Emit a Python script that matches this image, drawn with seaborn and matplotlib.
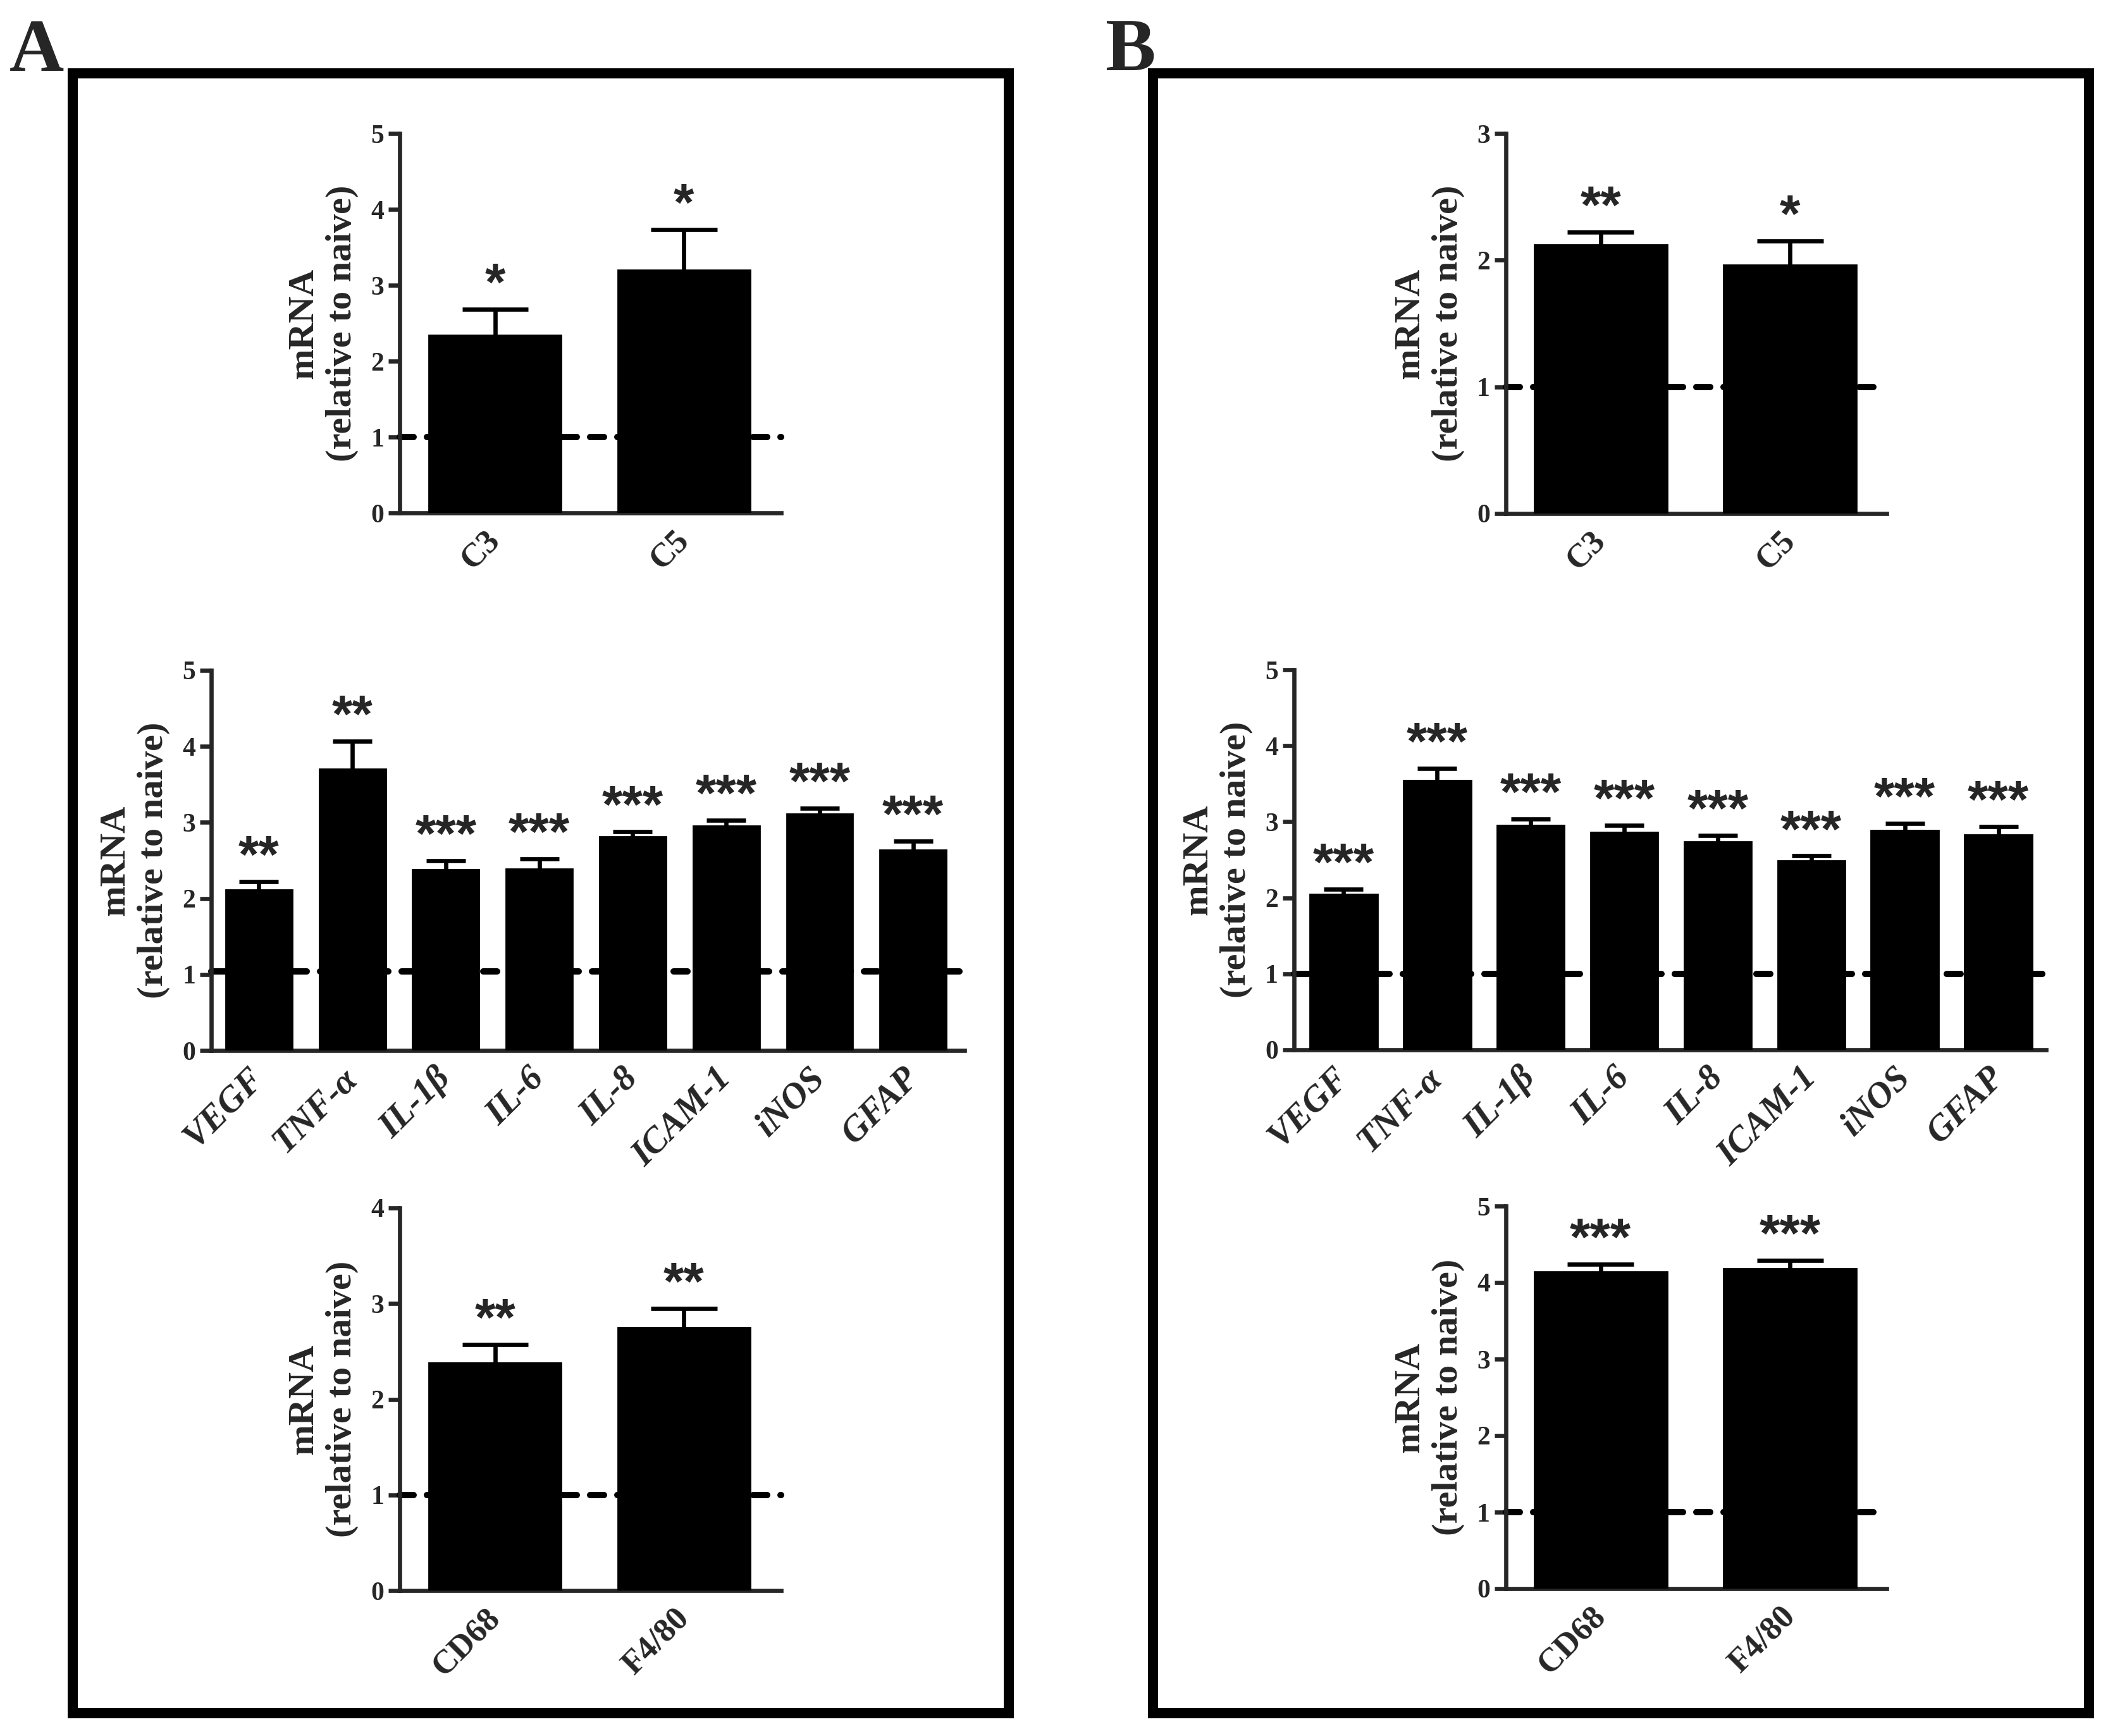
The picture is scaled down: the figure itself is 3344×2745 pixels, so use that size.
import matplotlib
matplotlib.use("Agg")
import matplotlib.pyplot as plt
from matplotlib.patches import Rectangle
import seaborn as sns

# ---- data (fold change vs naive, mean and SEM) ----
comp_genes = ["C3", "C5"]
inf_genes = ["VEGF", "TNF-α", "IL-1β", "IL-6", "IL-8", "ICAM-1", "iNOS", "GFAP"]
mac_genes = ["CD68", "F4/80"]

a_comp_mean = [2.34, 3.20]
a_comp_sem = [0.34, 0.53]
a_comp_stars = ["*", "*"]

a_inf_mean = [2.11, 3.70, 2.38, 2.39, 2.81, 2.95, 3.11, 2.64]
a_inf_sem = [0.11, 0.37, 0.12, 0.13, 0.07, 0.08, 0.08, 0.11]
a_inf_stars = ["**", "**", "***", "***", "***", "***", "***", "***"]

a_mac_mean = [2.38, 2.75]
a_mac_sem = [0.19, 0.20]
a_mac_stars = ["**", "**"]

b_comp_mean = [2.12, 1.96]
b_comp_sem = [0.10, 0.19]
b_comp_stars = ["**", "*"]

b_inf_mean = [2.05, 3.54, 2.95, 2.86, 2.74, 2.49, 2.89, 2.83]
b_inf_sem = [0.06, 0.16, 0.09, 0.09, 0.08, 0.06, 0.09, 0.11]
b_inf_stars = ["***"] * 8

b_mac_mean = [4.14, 4.18]
b_mac_sem = [0.10, 0.11]
b_mac_stars = ["***", "***"]

ylabel = "mRNA\n(relative to naive)"

W, H = 3344, 2745

sns.set_style("ticks")
plt.rcParams["font.family"] = ["Liberation Serif", "DejaVu Serif"]
plt.rcParams["axes.linewidth"] = 2.4
plt.rcParams["ytick.major.width"] = 2.4
plt.rcParams["ytick.major.size"] = 6.5
plt.rcParams["ytick.major.pad"] = 2.5

fig = plt.figure(figsize=(W / 200, H / 200), dpi=200)


def px_axes(x0, x1, y0, y1):
    # pixel box (top-left origin) -> figure axes
    return fig.add_axes([x0 / W, (H - y1) / H, (x1 - x0) / W, (y1 - y0) / H])


def draw_panel(ax, genes, means, sems, stars, ymax, xlim, baseline=1.0,
               italic=False, bar_w=0.7, cap=0.175, xsize=19):
    sns.barplot(x=genes, y=means, color="black", saturation=1, width=bar_w,
                errorbar=None, edgecolor="black", linewidth=1, ax=ax, zorder=3)
    xs = list(range(len(genes)))
    tops = [m + s for m, s in zip(means, sems)]
    ax.vlines(xs, means, tops, color="black", lw=2.4, zorder=4)
    ax.hlines(tops, [x - cap for x in xs], [x + cap for x in xs],
              color="black", lw=2.4, zorder=4)
    ax.plot(xlim, [baseline, baseline], color="black", lw=3.6,
            dashes=(2.2, 2.1), dash_capstyle="round", zorder=2, clip_on=False)
    for x, t, s in zip(xs, tops, stars):
        ax.annotate(s, xy=(x, t), xytext=(0, 13), textcoords="offset points",
                    ha="center", va="center", fontsize=30, fontweight="bold",
                    family=["Liberation Sans", "DejaVu Sans"])
    ax.set_xlim(*xlim)
    ax.set_ylim(0, ymax)
    ax.set_yticks(range(0, ymax + 1))
    ax.tick_params(axis="y", labelsize=15)
    for lab in ax.get_yticklabels():
        lab.set_fontweight("bold")
    ax.tick_params(axis="x", length=0, pad=13)
    ax.set_xticks(xs)
    ax.set_xticklabels(genes, rotation=45, ha="right", va="center",
                       rotation_mode="anchor", fontsize=xsize, fontweight="bold",
                       fontstyle="italic" if italic else "normal")
    ax.set_xlabel("")
    ax.set_ylabel(ylabel, fontsize=21, fontweight="bold", labelpad=7,
                  linespacing=1.2)
    sns.despine(ax=ax)


# panel A
ax = px_axes(632, 1235, 211, 811)
draw_panel(ax, comp_genes, a_comp_mean, a_comp_sem, a_comp_stars, 5, (-0.505, 1.515))
ax = px_axes(334, 1525, 1060, 1661)
draw_panel(ax, inf_genes, a_inf_mean, a_inf_sem, a_inf_stars, 5, (-0.51, 7.55),
           baseline=1.04, italic=True, bar_w=0.71, cap=0.21, xsize=20.5)
ax = px_axes(632, 1235, 1910, 2515)
draw_panel(ax, mac_genes, a_mac_mean, a_mac_sem, a_mac_stars, 4, (-0.505, 1.515))

# panel B
ax = px_axes(2381, 2983, 211, 812)
draw_panel(ax, comp_genes, b_comp_mean, b_comp_sem, b_comp_stars, 3, (-0.5, 1.51))
ax = px_axes(2046, 3235, 1059, 1660)
draw_panel(ax, inf_genes, b_inf_mean, b_inf_sem, b_inf_stars, 5, (-0.53, 7.51),
           italic=True, bar_w=0.72, cap=0.21, xsize=20.5)
ax = px_axes(2381, 2983, 1907, 2512)
draw_panel(ax, mac_genes, b_mac_mean, b_mac_sem, b_mac_stars, 5, (-0.5, 1.51))

# frames and panel letters
for x0, x1 in [(115, 1595), (1823, 3303)]:
    fig.add_artist(Rectangle((x0 / W, (H - 2709) / H), (x1 - x0) / W,
                             (2709 - 116) / H, transform=fig.transFigure,
                             fill=False, lw=5.76, ec="black"))
fig.text(15 / W, 1 - 112 / H, "A", fontsize=43, fontweight="bold", va="baseline")
fig.text(1747 / W, 1 - 111 / H, "B", fontsize=43, fontweight="bold", va="baseline")

fig.savefig("out.png", dpi=200, facecolor="white")
